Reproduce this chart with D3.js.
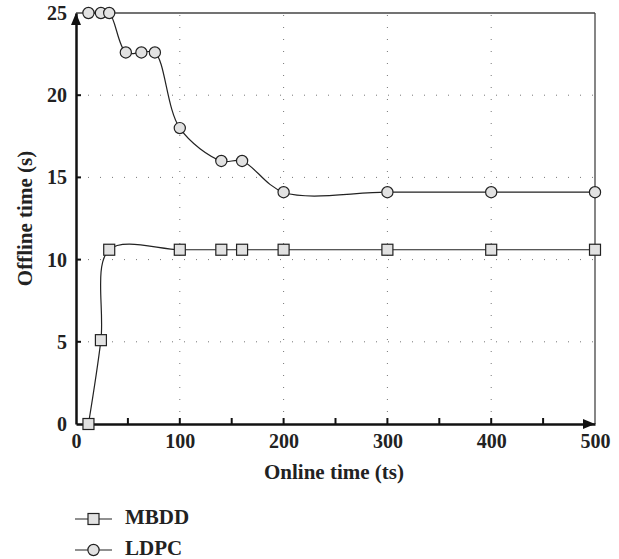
<!DOCTYPE html>
<html>
<head>
<meta charset="utf-8">
<script src="https://cdn.jsdelivr.net/npm/d3@7"></script>
<style>
  body { margin: 0; background: #fff; }
  text { font-family: "Liberation Serif", "DejaVu Serif", serif; font-weight: bold; fill: #222; }
</style>
</head>
<body>
<div id="chart"></div>
<script>
// donnees
const mbddX = [12, 24, 32, 100, 140, 160, 200, 300, 400, 500];
const mbddY = [0, 5.1, 10.6, 10.6, 10.6, 10.6, 10.6, 10.6, 10.6, 10.6];
const ldpcX = [12, 24, 32, 48, 63, 76, 100, 140, 160, 200, 300, 400, 500];
const ldpcY = [25, 25, 25, 22.6, 22.6, 22.6, 18, 16, 16, 14.1, 14.1, 14.1, 14.1];
const xTicks = [0, 100, 200, 300, 400, 500];
const xMinorTicks = [50, 150, 250, 350, 450];
const yTicks = [0, 5, 10, 15, 20, 25];
const series = ["MBDD", "LDPC"];

const largeur = 619, hauteur = 559;
const marge = { haut: 13, droite: 24, bas: 135, gauche: 76 };

const svg = d3.select("#chart").append("svg")
    .attr("width", largeur)
    .attr("height", hauteur);

const x = d3.scaleLinear().domain([0, 500]).range([marge.gauche, largeur - marge.droite]);
const y = d3.scaleLinear().domain([0, 25]).range([hauteur - marge.bas, marge.haut]);

// grille pointillee
svg.append("g").selectAll("line")
    .data(xTicks.filter(d => d > 0 && d < 500))
    .join("line")
    .attr("x1", d => x(d)).attr("x2", d => x(d))
    .attr("y1", y(0)).attr("y2", y(25))
    .attr("stroke", "#777").attr("stroke-width", 1)
    .attr("stroke-dasharray", "1,11");

svg.append("g").selectAll("line")
    .data(yTicks.filter(d => d > 0 && d < 25))
    .join("line")
    .attr("x1", x(0)).attr("x2", x(500))
    .attr("y1", d => y(d)).attr("y2", d => y(d))
    .attr("stroke", "#777").attr("stroke-width", 1)
    .attr("stroke-dasharray", "1,11");

// cadre haut et droite
svg.append("line")
    .attr("x1", x(0)).attr("x2", x(500))
    .attr("y1", y(25)).attr("y2", y(25))
    .attr("stroke", "#444").attr("stroke-width", 1.3);
svg.append("line")
    .attr("x1", x(500)).attr("x2", x(500))
    .attr("y1", y(25)).attr("y2", y(0))
    .attr("stroke", "#444").attr("stroke-width", 1.3);

// axe x
const axeX = svg.append("g")
    .attr("transform", "translate(0," + y(0) + ")")
    .call(d3.axisBottom(x).tickValues(xTicks).tickSize(0).tickPadding(10).tickFormat(d3.format("d")));
axeX.select(".domain").attr("stroke", "#111").attr("stroke-width", 2.5);
axeX.selectAll("text").style("font-size", "20px");

svg.append("g").selectAll("line")
    .data(xMinorTicks.concat(xTicks.filter(d => d > 0 && d < 500)))
    .join("line")
    .attr("x1", d => x(d)).attr("x2", d => x(d))
    .attr("y1", y(0)).attr("y2", y(0) - 6)
    .attr("stroke", "#111").attr("stroke-width", 2);

// axe y
const axeY = svg.append("g")
    .attr("transform", "translate(" + x(0) + ",0)")
    .call(d3.axisLeft(y).tickValues(yTicks).tickSize(0).tickPadding(9));
axeY.select(".domain").attr("stroke", "#111").attr("stroke-width", 2.5);
axeY.selectAll("text").style("font-size", "20px");

svg.append("g").selectAll("line")
    .data(yTicks.filter(d => d > 0 && d < 25))
    .join("line")
    .attr("x1", x(0)).attr("x2", x(0) + 5)
    .attr("y1", d => y(d)).attr("y2", d => y(d))
    .attr("stroke", "#111").attr("stroke-width", 2);

// fleches
svg.append("path")
    .attr("d", "M" + x(0) + "," + y(25) + " l-5,12 l10,0 z")
    .attr("fill", "#111");
svg.append("path")
    .attr("d", "M" + x(500) + "," + y(0) + " l-12,-5 l0,10 z")
    .attr("fill", "#111");

// titres des axes
svg.append("text")
    .attr("x", 334)
    .attr("y", 479)
    .attr("text-anchor", "middle")
    .style("font-size", "21px")
    .text("Online time (ts)");

svg.append("text")
    .attr("transform", "translate(25," + ((y(0) + y(25)) / 2) + ") rotate(-90)")
    .attr("text-anchor", "middle")
    .attr("dy", "0.35em")
    .style("font-size", "21px")
    .text("Offline time (s)");

// courbes
const ligne = d3.line()
    .x(d => x(d[0]))
    .y(d => y(d[1]))
    .curve(d3.curveCatmullRom.alpha(0.5));

const mbdd = mbddX.map((v, i) => [v, mbddY[i]]);
const ldpc = ldpcX.map((v, i) => [v, ldpcY[i]]);

[mbdd, ldpc].forEach(pts => {
    svg.append("path")
        .datum(pts)
        .attr("d", ligne)
        .attr("fill", "none")
        .attr("stroke", "#222")
        .attr("stroke-width", 1.2);
});

const cote = 11, rayon = 5.6;
svg.append("g").selectAll("rect")
    .data(mbdd)
    .join("rect")
    .attr("x", d => x(d[0]) - cote / 2)
    .attr("y", d => y(d[1]) - cote / 2)
    .attr("width", cote).attr("height", cote)
    .attr("fill", "#e2e2e2").attr("stroke", "#222").attr("stroke-width", 1.2);

svg.append("g").selectAll("circle")
    .data(ldpc)
    .join("circle")
    .attr("cx", d => x(d[0]))
    .attr("cy", d => y(d[1]))
    .attr("r", rayon)
    .attr("fill", "#e2e2e2").attr("stroke", "#222").attr("stroke-width", 1.2);

// legende
const legende = svg.append("g");
series.forEach((nom, i) => {
    const ly = 519 + i * 31;
    legende.append("line")
        .attr("x1", 75).attr("x2", 112)
        .attr("y1", ly).attr("y2", ly)
        .attr("stroke", "#222").attr("stroke-width", 1.2);
    if (i === 0) {
        legende.append("rect")
            .attr("x", 93.5 - cote / 2).attr("y", ly - cote / 2)
            .attr("width", cote).attr("height", cote)
            .attr("fill", "#e2e2e2").attr("stroke", "#222").attr("stroke-width", 1.2);
    } else {
        legende.append("circle")
            .attr("cx", 93.5).attr("cy", ly).attr("r", rayon)
            .attr("fill", "#e2e2e2").attr("stroke", "#222").attr("stroke-width", 1.2);
    }
    legende.append("text")
        .attr("x", 125).attr("y", ly - 2)
        .attr("dy", "0.35em")
        .style("font-size", "21px")
        .text(nom);
});
</script>
</body>
</html>
